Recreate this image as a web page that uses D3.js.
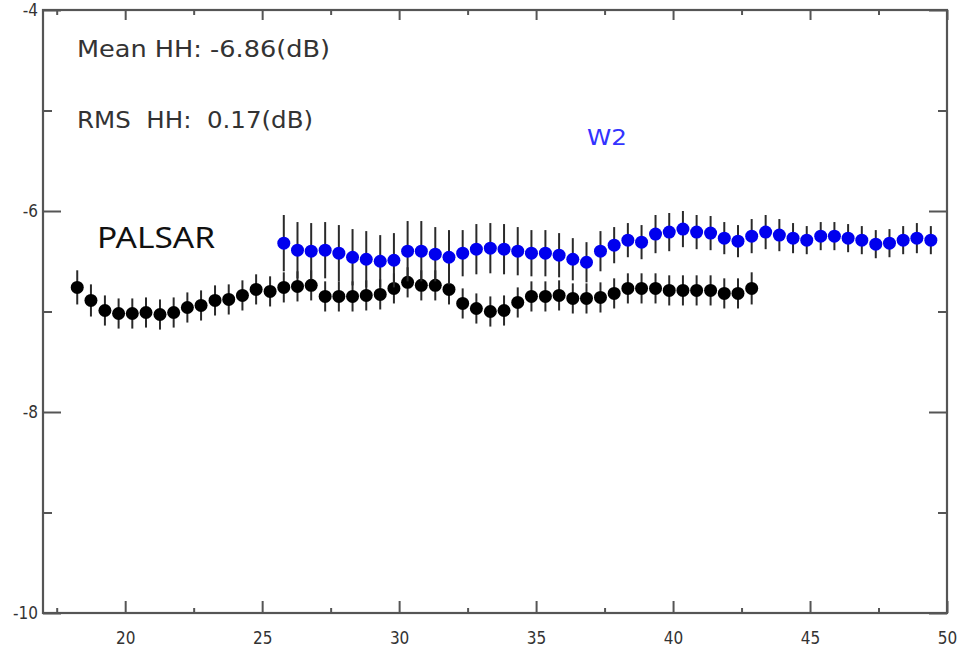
<!DOCTYPE html>
<html>
<head>
<meta charset="utf-8">
<script src="https://cdn.jsdelivr.net/npm/d3@7"></script>
<style>
  html, body { margin: 0; padding: 0; background: #ffffff; }
  svg { display: block; }
</style>
</head>
<body>
<script>
// ---------------- DATA ----------------
const palsarAngle = [18.25, 18.75, 19.26, 19.76, 20.26, 20.76, 21.27, 21.77, 22.27, 22.77,
  23.28, 23.78, 24.28, 24.78, 25.29, 25.79, 26.29, 26.79, 27.30, 27.80,
  28.30, 28.80, 29.31, 29.81, 30.31, 30.81, 31.32, 31.82, 32.32, 32.82,
  33.33, 33.83, 34.33, 34.83, 35.34, 35.84, 36.34, 36.84, 37.35, 37.85,
  38.35, 38.85, 39.36, 39.86, 40.36, 40.86, 41.37, 41.87, 42.37, 42.87];
const palsarHH = [-6.76, -6.89, -6.99, -7.02, -7.02, -7.01, -7.03, -7.01, -6.96, -6.94,
  -6.89, -6.88, -6.84, -6.78, -6.80, -6.76, -6.75, -6.74, -6.85, -6.85,
  -6.85, -6.84, -6.83, -6.77, -6.71, -6.74, -6.74, -6.78, -6.92, -6.97,
  -7.00, -6.99, -6.91, -6.85, -6.85, -6.84, -6.87, -6.87, -6.86, -6.82,
  -6.77, -6.77, -6.77, -6.79, -6.79, -6.79, -6.79, -6.82, -6.82, -6.77];
const palsarErr = [0.17, 0.16, 0.15, 0.15, 0.15, 0.15, 0.15, 0.15, 0.15, 0.15,
  0.15, 0.15, 0.15, 0.15, 0.15, 0.15, 0.15, 0.15, 0.15, 0.15,
  0.15, 0.15, 0.15, 0.15, 0.15, 0.15, 0.15, 0.15, 0.15, 0.15,
  0.15, 0.15, 0.15, 0.15, 0.15, 0.15, 0.15, 0.15, 0.15, 0.15,
  0.15, 0.15, 0.15, 0.15, 0.15, 0.15, 0.15, 0.15, 0.15, 0.16];

const w2Angle = [25.79, 26.29, 26.79, 27.30, 27.80, 28.30, 28.80, 29.31, 29.81, 30.31,
  30.81, 31.32, 31.82, 32.32, 32.82, 33.33, 33.83, 34.33, 34.83, 35.34,
  35.84, 36.34, 36.84, 37.35, 37.85, 38.35, 38.85, 39.36, 39.86, 40.36,
  40.86, 41.37, 41.87, 42.37, 42.87, 43.38, 43.88, 44.38, 44.88, 45.39,
  45.89, 46.39, 46.89, 47.40, 47.90, 48.40, 48.90, 49.41];
const w2HH = [-6.32, -6.39, -6.40, -6.39, -6.42, -6.46, -6.48, -6.50, -6.49, -6.40,
  -6.40, -6.43, -6.46, -6.42, -6.38, -6.37, -6.38, -6.40, -6.42, -6.42,
  -6.44, -6.48, -6.51, -6.40, -6.34, -6.29, -6.31, -6.23, -6.21, -6.18,
  -6.21, -6.22, -6.27, -6.30, -6.25, -6.21, -6.24, -6.27, -6.29, -6.25,
  -6.25, -6.27, -6.29, -6.33, -6.32, -6.29, -6.27, -6.29];
const w2Err = [0.28, 0.28, 0.28, 0.28, 0.28, 0.28, 0.28, 0.26, 0.27, 0.30,
  0.30, 0.27, 0.27, 0.23, 0.25, 0.25, 0.25, 0.24, 0.23, 0.23,
  0.22, 0.21, 0.20, 0.20, 0.18, 0.17, 0.17, 0.19, 0.19, 0.18,
  0.17, 0.17, 0.16, 0.16, 0.17, 0.17, 0.16, 0.15, 0.14, 0.14,
  0.14, 0.14, 0.14, 0.14, 0.14, 0.14, 0.15, 0.14];

const xMajorTicks = [20, 25, 30, 35, 40, 45, 50];
const xMinorTicks = [17.5, 22.5, 27.5, 32.5, 37.5, 42.5, 47.5];
const yMajorTicks = [-4, -6, -8, -10];
const yMinorTicks = [-5, -7, -9];

const annotations = ["Mean HH: -6.86(dB)", "RMS  HH:  0.17(dB)"];
const seriesLabels = ["PALSAR", "W2"];

// ---------------- CHART ----------------
const W = 960, H = 648;
const svg = d3.select("body").append("svg").attr("width", W).attr("height", H);

const x = d3.scaleLinear().domain([17, 50]).range([43, 947]);
const y = d3.scaleLinear().domain([-10, -4]).range([613, 10]);

const axisColor = "#555";
const tickFont = "'DejaVu Sans Condensed', 'DejaVu Sans', sans-serif";
const plainFormat = d => String(d);

function styleAxis(g) {
  g.select(".domain").remove();
  g.selectAll(".tick line").attr("stroke", axisColor).attr("stroke-width", 2);
  g.selectAll(".tick text").attr("fill", "#333").attr("font-family", tickFont).attr("font-size", 17);
}

// frame
svg.append("rect")
  .attr("x", x(17)).attr("y", y(-4))
  .attr("width", x(50) - x(17)).attr("height", y(-10) - y(-4))
  .attr("fill", "none").attr("stroke", axisColor).attr("stroke-width", 2.2);

// bottom axis
svg.append("g").attr("transform", `translate(0,${y(-10)})`)
  .call(d3.axisBottom(x).tickValues(xMajorTicks).tickSize(-12).tickPadding(19).tickFormat(plainFormat))
  .call(styleAxis);
svg.append("g").attr("transform", `translate(0,${y(-10)})`)
  .call(d3.axisBottom(x).tickValues(xMinorTicks).tickSize(-5).tickFormat(""))
  .call(styleAxis);
// top axis
svg.append("g").attr("transform", `translate(0,${y(-4)})`)
  .call(d3.axisTop(x).tickValues(xMajorTicks).tickSize(-10).tickFormat(""))
  .call(styleAxis);
svg.append("g").attr("transform", `translate(0,${y(-4)})`)
  .call(d3.axisTop(x).tickValues(xMinorTicks).tickSize(-5).tickFormat(""))
  .call(styleAxis);
// left axis
svg.append("g").attr("transform", `translate(${x(17)},0)`)
  .call(d3.axisLeft(y).tickValues(yMajorTicks).tickSize(-18).tickPadding(5).tickFormat(plainFormat))
  .call(styleAxis);
svg.append("g").attr("transform", `translate(${x(17)},0)`)
  .call(d3.axisLeft(y).tickValues(yMinorTicks).tickSize(-9).tickFormat(""))
  .call(styleAxis);
// right axis
svg.append("g").attr("transform", `translate(${x(50)},0)`)
  .call(d3.axisRight(y).tickValues(yMajorTicks).tickSize(-18).tickFormat(""))
  .call(styleAxis);
svg.append("g").attr("transform", `translate(${x(50)},0)`)
  .call(d3.axisRight(y).tickValues(yMinorTicks).tickSize(-9).tickFormat(""))
  .call(styleAxis);

// series
function drawSeries(angles, vals, errs, color, cls) {
  const data = angles.map((a, i) => ({ a, v: vals[i], e: errs[i] }));
  const g = svg.append("g").attr("class", cls);
  g.selectAll("line.err").data(data).enter().append("line")
    .attr("class", "err")
    .attr("x1", d => x(d.a)).attr("x2", d => x(d.a))
    .attr("y1", d => y(d.v - d.e)).attr("y2", d => y(d.v + d.e))
    .attr("stroke", "#2a2a2a").attr("stroke-width", 2);
  g.selectAll("circle").data(data).enter().append("circle")
    .attr("cx", d => x(d.a)).attr("cy", d => y(d.v)).attr("r", 6.5)
    .attr("fill", color);
}
drawSeries(palsarAngle, palsarHH, palsarErr, "#000000", "palsar");
drawSeries(w2Angle, w2HH, w2Err, "#0000ee", "w2");

// annotations
const annFont = "'DejaVu Sans', sans-serif";
svg.append("text").attr("x", 77).attr("y", 57)
  .attr("font-family", annFont).attr("font-size", 23).attr("fill", "#333")
  .attr("textLength", 253).attr("lengthAdjust", "spacingAndGlyphs")
  .text(annotations[0]);
svg.append("text").attr("x", 77).attr("y", 128)
  .attr("font-family", annFont).attr("font-size", 23).attr("fill", "#333")
  .attr("textLength", 236).attr("lengthAdjust", "spacingAndGlyphs")
  .style("white-space", "pre")
  .text(annotations[1]);
svg.append("text").attr("x", 97).attr("y", 248)
  .attr("font-family", "'Noto Sans', sans-serif").attr("font-size", 29).attr("fill", "#111")
  .attr("textLength", 118).attr("lengthAdjust", "spacingAndGlyphs")
  .text(seriesLabels[0]);
svg.append("text").attr("x", 587).attr("y", 145)
  .attr("font-family", annFont).attr("font-size", 21).attr("fill", "#3333ff")
  .attr("textLength", 40).attr("lengthAdjust", "spacingAndGlyphs")
  .text(seriesLabels[1]);
</script>
</body>
</html>
